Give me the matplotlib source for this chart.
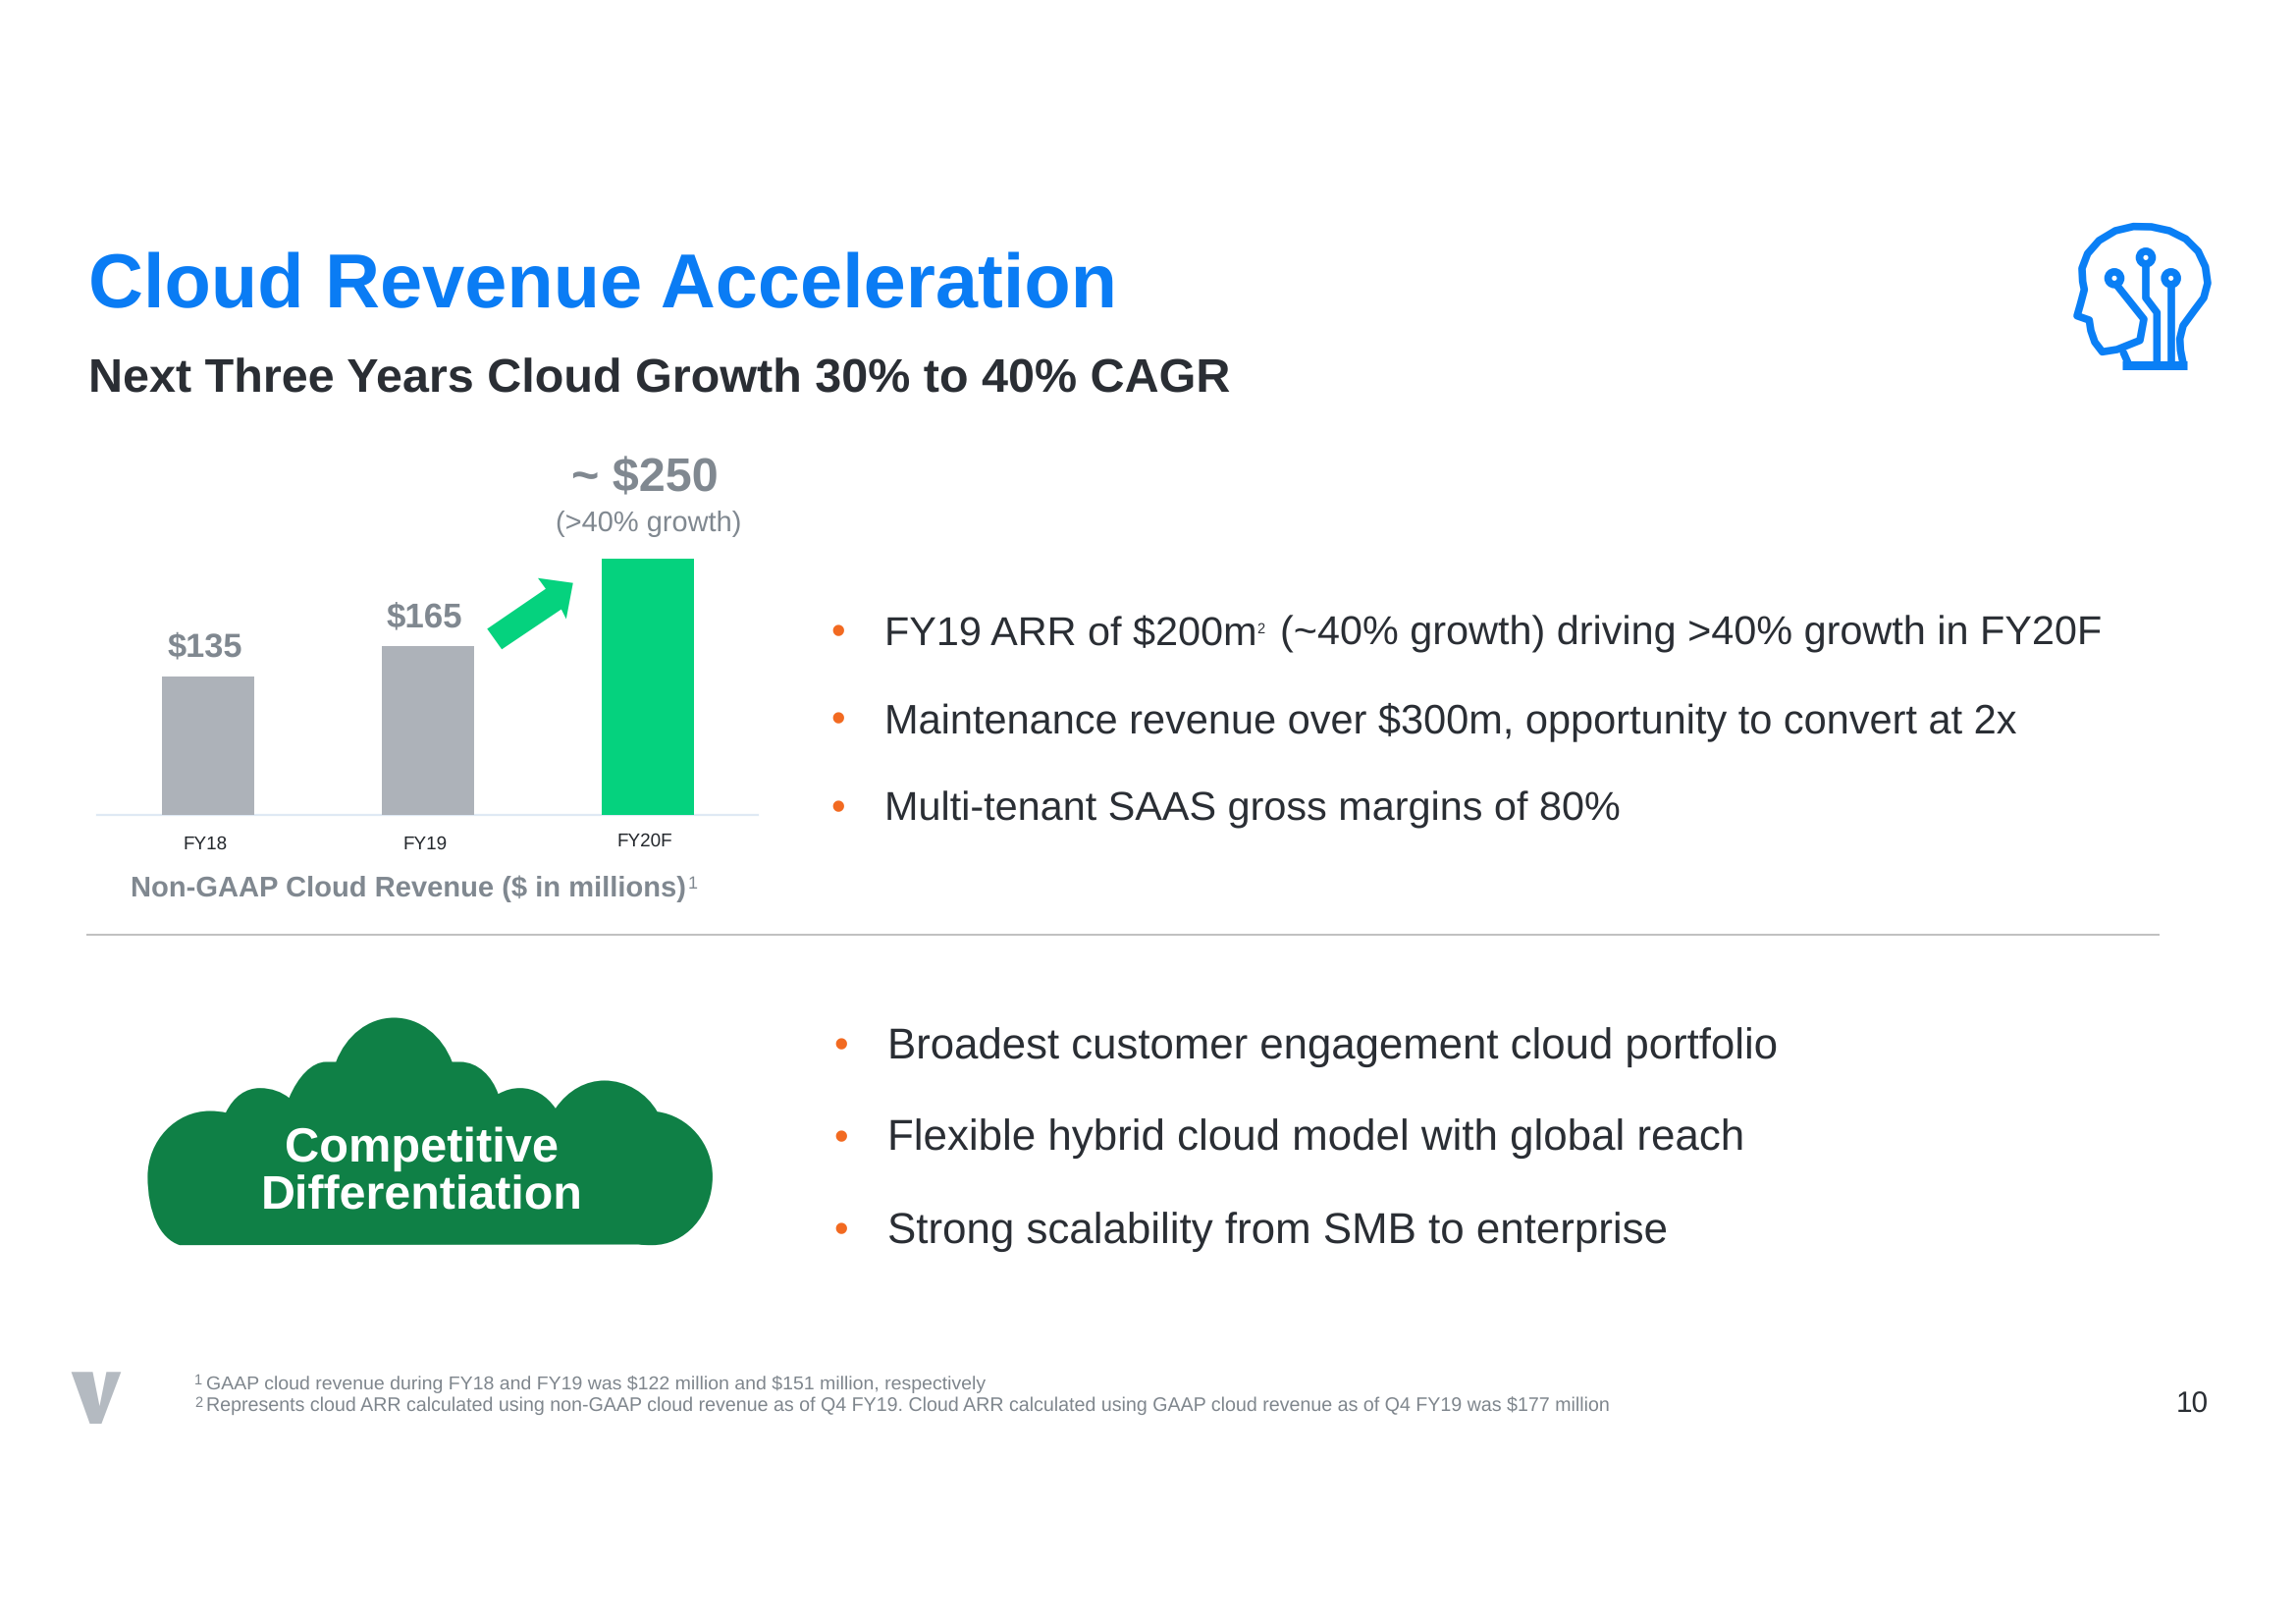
import matplotlib
matplotlib.use("Agg")
import matplotlib.pyplot as plt
from matplotlib.font_manager import FontProperties
from matplotlib.patches import PathPatch, Polygon, Circle
from matplotlib.path import Path
from matplotlib.textpath import TextPath
from matplotlib.transforms import ScaledTranslation

plt.rcParams['font.family'] = ['Liberation Sans', 'DejaVu Sans']
plt.rcParams['text.hinting'] = 'none'

categories = ['FY18', 'FY19', 'FY20F']
values = [135, 165, 250]
value_labels = ['$135', '$165', '~ $250']
bar_colors = ['#adb2b9', '#adb2b9', '#05d27e']

W, H = 2339, 1654
S = 0.9945  # layout units below -> output pixels
fig = plt.figure(figsize=(W / 100, H / 100), dpi=100, facecolor='white')

# page overlay in layout units
pg = fig.add_axes([0, 0, 1, 1])
pg.set_xlim(0, W / S)
pg.set_ylim(H / S, 0)
pg.axis('off')


def T(s, x0, x1, base, color, bold=False):
    """Text whose ink width is about x1-x0 layout units, baseline at `base`."""
    fp = FontProperties(family='Liberation Sans', weight='bold' if bold else 'normal')
    # '$' is measured as a digit of the same width so TextPath does not parse math
    w = TextPath((0, 0), s.replace('$', '0'), size=100, prop=fp).get_extents().width
    size = (x1 - x0) * S / (w / 100) * 0.72 * 0.996
    return pg.text(x0, base, s, fontsize=size, color=color, ha='left', va='baseline',
                   family='Liberation Sans', weight='bold' if bold else 'normal',
                   parse_math=False, zorder=5)


def note(x, y, s, size, color):
    pg.text(x, y, s, fontsize=size, color=color, va='baseline', parse_math=False, zorder=5)


BLUE = '#0a7cf4'
DARK = '#2a2e34'
GREY = '#808890'
ORANGE = '#f26a21'

T('Cloud Revenue Acceleration', 90, 1141, 315, BLUE, True)
T('Next Three Years Cloud Growth 30% to 40% CAGR', 90, 1260, 402, DARK, True)

# chart
left, right, base_y, top_y = 100 * S, 776 * S, 835 * S, 535 * S
ax = fig.add_axes([left / W, 1 - base_y / H, (right - left) / W, (base_y - top_y) / H])
ax.patch.set_alpha(0)
step = 225.4 * S
ax.set_xlim((left - 213 * S) / step, (right - 213 * S) / step)
ax.set_ylim(0, (base_y - top_y) / (1.05 * S))
ax.bar(range(3), values, width=94.5 * S / step, color=bar_colors, zorder=3)
for s in ['top', 'left', 'right']:
    ax.spines[s].set_visible(False)
ax.spines['bottom'].set_color('#dfe9f4')
ax.spines['bottom'].set_linewidth(1.6)
ax.set_yticks([])
ax.set_xticks(range(3))
ax.set_xticklabels(categories, fontsize=13.6, color='#23272c')
ax.tick_params(axis='x', length=0, pad=15)
for lbl, (dx, dy) in zip(ax.get_xticklabels(), [(-3, 0), (-3, 0), (-3, 3)]):
    lbl.set_transform(lbl.get_transform() + ScaledTranslation(dx / 100, dy / 100, fig.dpi_scale_trans))

T(value_labels[0], 171, 246, 672, GREY, True)
T(value_labels[1], 396, 472, 643, GREY, True)
T(value_labels[2], 585, 732, 503.5, GREY, True)
T('(>40% growth)', 569, 757, 544, GREY)
T('Non-GAAP Cloud Revenue ($ in millions)', 134, 703, 918.5, GREY, True)
note(705, 910, '1', 13, GREY)

pg.add_patch(Polygon([(499, 644), (514, 665), (575, 624), (580, 634), (587, 597), (551, 592), (559, 603)],
                     closed=True, fc='#05d27e', ec='none'))

# right bullets, upper
BUL = dict(fontsize=30, color=ORANGE, ha='center', va='baseline')
for yy in (430, 490, 550):
    pg.text(858, yy * 1.5 + 14.5, '•', **BUL)
T('FY19 ARR of $200m', 906, 1283, 660.5, DARK)
note(1287, 649, '2', 10.5, DARK)
T('(~40% growth) driving >40% growth in FY20F', 1311, 2152, 660.5, DARK)
T('Maintenance revenue over $300m, opportunity to convert at 2x', 906, 2068, 750, DARK)
T('Multi-tenant SAAS gross margins of 80%', 906, 1659, 840, DARK)

# divider
pg.plot([88, 2212], [957.5, 957.5], color='#b5b5b5', lw=1.2, solid_capstyle='butt')

# right bullets, lower
for yy in (712, 775, 838):
    pg.text(861, yy * 1.5 + 15.5, '•', **BUL)
T('Broadest customer engagement cloud portfolio', 909, 1819, 1084.5, DARK)
T('Flexible hybrid cloud model with global reach', 909, 1784, 1178.5, DARK)
T('Strong scalability from SMB to enterprise', 909, 1707, 1273.5, DARK)


# cloud outline, in crop coordinates of the source picture
def z(x, y):
    return ((130 + x / 2.45) / S, (1021.5 + y / 3.0) / S)


segs = [
    ('M', (130, 740)),
    ('C', (80, 720), (50, 640), (50, 530)),
    ('C', (50, 420), (120, 330), (205, 330)),
    ('C', (220, 330), (235, 332), (245, 335)),
    ('C', (265, 285), (295, 260), (330, 260)),
    ('C', (360, 260), (385, 272), (403, 290)),
    ('C', (425, 225), (460, 180), (495, 180)),
    ('L', (520, 180)),
    ('C', (545, 100), (600, 45), (665, 45)),
    ('C', (730, 45), (785, 100), (810, 180)),
    ('L', (830, 180)),
    ('C', (875, 180), (910, 225), (925, 278)),
    ('C', (945, 265), (960, 260), (980, 260)),
    ('C', (1015, 260), (1045, 282), (1068, 322)),
    ('C', (1100, 265), (1145, 237), (1190, 237)),
    ('C', (1245, 237), (1295, 275), (1322, 332)),
    ('C', (1400, 345), (1460, 430), (1460, 530)),
    ('C', (1460, 650), (1390, 740), (1310, 740)),
    ('C', (1295, 740), (1285, 740), (1275, 738)),
    ('L', (130, 740)),
]
verts, codes = [], []
for s in segs:
    pts = [z(*p) for p in s[1:]]
    verts += pts
    codes += {'M': [Path.MOVETO], 'L': [Path.LINETO], 'C': [Path.CURVE4] * 3}[s[0]]
pg.add_patch(PathPatch(Path(verts, codes), fc='#0f8046', ec='none'))
T('Competitive', 292, 570, 1189.5, 'white', True)
T('Differentiation', 267, 592, 1238.5, 'white', True)


# head icon
def h(pts):
    return [((2080 + x / 3) / S, (200 + y / 3) / S) for x, y in pts]


ICON = '#0a7ff5'
IC = dict(color=ICON, lw=5.5, solid_joinstyle='round', solid_capstyle='round', zorder=4)
head = [(432, 510), (424, 470), (422, 435), (432, 395), (465, 350), (495, 310), (507, 265), (500, 215),
        (478, 168), (440, 130), (390, 105), (335, 93), (280, 92), (225, 105), (175, 135), (140, 175),
        (123, 220), (125, 260), (130, 285), (118, 330), (108, 365), (145, 378), (150, 410), (162, 445),
        (185, 475), (230, 468), (300, 440), (312, 375), (222, 262)]
x, y = zip(*h(head))
pg.plot(x, y, **IC)
for c in [[(318, 200), (318, 310), (352, 355), (352, 512)], [(395, 260), (395, 512)], [(250, 478), (265, 512)]]:
    x, y = zip(*h(c))
    pg.plot(x, y, **IC)
x, y = zip(*h([(247, 515), (445, 515)]))
pg.plot(x, y, **{**IC, 'lw': 6.5, 'solid_capstyle': 'butt'})
for c in h([(222, 250), (318, 187), (395, 250)]):
    pg.add_patch(Circle(c, 6.5, fc='white', ec=ICON, lw=5.5, zorder=5))

# footer
pg.add_patch(Polygon([(73, 1405), (95, 1405), (102, 1440), (109, 1405), (124, 1405), (104, 1458), (92, 1458)],
                     closed=True, fc='#b4bac1', ec='none'))
FOOT = '#7f868d'
note(199, 1418, '1', 10.5, FOOT)
T('GAAP cloud revenue during FY18 and FY19 was $122 million and $151 million, respectively', 211, 1012, 1422.5, FOOT)
note(199, 1441, '2', 10.5, FOOT)
T('Represents cloud ARR calculated using non-GAAP cloud revenue as of Q4 FY19. Cloud ARR calculated using GAAP cloud revenue as of Q4 FY19 was $177 million',
  211, 1648, 1445, FOOT)
T('10', 2229, 2259, 1447, DARK)

fig.savefig('out.png', dpi=100, facecolor='white')
